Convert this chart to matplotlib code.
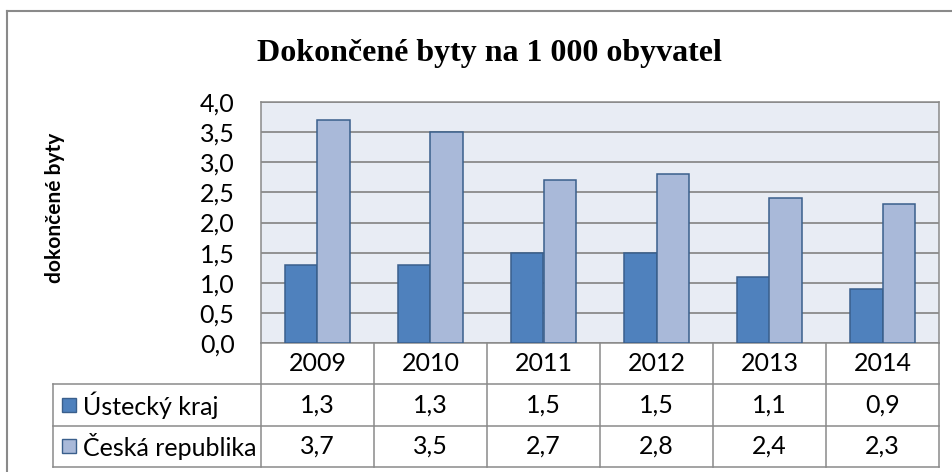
import numpy as np
import matplotlib
matplotlib.use('Agg')
import matplotlib.pyplot as plt
from matplotlib.lines import Line2D

# --- data ---
years = ['2009', '2010', '2011', '2012', '2013', '2014']
ustecky = [1.3, 1.3, 1.5, 1.5, 1.1, 0.9]
cesko = [3.7, 3.5, 2.7, 2.8, 2.4, 2.3]
series_names = ['Ústecký kraj', 'Česká republika']
yticks = [0.0, 0.5, 1.0, 1.5, 2.0, 2.5, 3.0, 3.5, 4.0]

DARK = '#4F81BD'
LIGHT = '#A9B9D9'
EDGE = '#3A5F8C'
GRID = '#8A8A8A'
BG = '#E8ECF4'
FS = 18

W, H = 953, 472
plt.rcParams['font.family'] = ['Lato', 'DejaVu Sans']

fig = plt.figure(figsize=(W / 100, H / 100), dpi=100)


def fx(x):
    return x / W


def fy(y):
    return 1 - y / H


# plot area (pixel layout of the original)
L, R, T, B = 261, 939, 102, 343
ax = fig.add_axes([fx(L), fy(B), (R - L) / W, (B - T) / H])
x = np.arange(len(years))
bw = 0.29
ax.bar(x - bw / 2, ustecky, bw, color=DARK, edgecolor=EDGE, linewidth=1.1, zorder=3)
ax.bar(x + bw / 2, cesko, bw, color=LIGHT, edgecolor=EDGE, linewidth=1.1, zorder=3)
ax.set_xlim(-0.5, len(years) - 0.5)
ax.set_ylim(0, 4)
ax.set_facecolor(BG)
ax.set_yticks(yticks)
ax.set_yticklabels([f'{v:.1f}'.replace('.', ',') for v in yticks])
ax.tick_params(axis='y', length=0, pad=19, labelsize=FS)
ax.set_xticks([])
ax.grid(axis='y', color=GRID, lw=1.3, zorder=1)
ax.set_axisbelow(True)
for s in ax.spines.values():
    s.set_color(GRID)
    s.set_linewidth(1.1)

# data table under the plot
TL, TB = 53, 467
unit = (R - L) / len(years)
tax = fig.add_axes([fx(TL), fy(TB), (R - TL) / W, (TB - B) / H])
xl = -0.5 - (L - TL) / unit
tax.set_xlim(xl, len(years) - 0.5)
tax.set_ylim(0, 3)
tax.axis('off')

lkw = dict(color=GRID, lw=1.1, clip_on=False)
for yy in [0, 1, 2]:
    tax.plot([xl, len(years) - 0.5], [yy, yy], **lkw)
tax.plot([xl, xl], [0, 2], **lkw)
for k in range(len(years) + 1):
    tax.plot([k - 0.5, k - 0.5], [0, 3], **lkw)

for i, yr in enumerate(years):
    tax.text(i, 2.5, yr, ha='center', va='center', fontsize=FS)
    tax.text(i, 1.5, f'{ustecky[i]:.1f}'.replace('.', ','), ha='center', va='center', fontsize=FS)
    tax.text(i, 0.5, f'{cesko[i]:.1f}'.replace('.', ','), ha='center', va='center', fontsize=FS)

mx = xl + (69.5 - TL) / unit
tx = xl + (83 - TL) / unit
for row, name, col in [(1.5, series_names[0], DARK), (0.5, series_names[1], LIGHT)]:
    tax.plot([mx], [row], marker='s', markersize=10.5, mfc=col, mec=EDGE, mew=1.0, clip_on=False)
    tax.text(tx, row, name, ha='left', va='center', fontsize=FS)

# outer chart frame (cut off at right and bottom)
fig.add_artist(Line2D([fx(7), fx(7)], [fy(11), fy(H + 5)], color=GRID, lw=1.5))
fig.add_artist(Line2D([fx(7), fx(W + 5)], [fy(11), fy(11)], color=GRID, lw=1.5))

fig.text(fx(489), fy(61), 'Dokončené byty na 1 000 obyvatel', ha='center', va='baseline',
         family=['Liberation Serif', 'DejaVu Serif'], weight='bold', fontsize=23)
fig.text(fx(55), fy(208), 'dokončené byty', rotation=90, ha='center', va='center',
         weight='bold', fontsize=15)

fig.savefig('out.png', dpi=100)
